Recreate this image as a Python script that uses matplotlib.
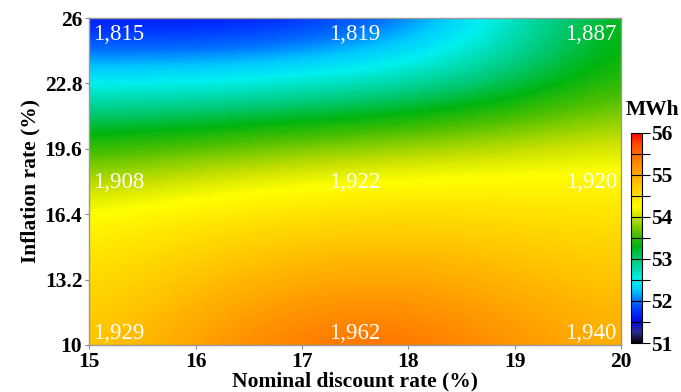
import numpy as np
import matplotlib
matplotlib.use("Agg")
import matplotlib.pyplot as plt
from matplotlib.colors import LinearSegmentedColormap

# grid (MWh)
discount = [15, 16, 17, 18, 19, 20]
inflation = [10, 13.2, 16.4, 19.6, 22.8, 26]
energy = [
    [54.75, 55.10, 55.45, 55.50, 55.20, 54.95],   # 10
    [54.55, 54.80, 55.00, 55.05, 54.90, 54.75],   # 13.2
    [54.30, 54.45, 54.55, 54.60, 54.55, 54.50],   # 16.4
    [53.55, 53.70, 53.85, 53.95, 54.05, 54.15],   # 19.6
    [52.50, 52.50, 52.60, 52.75, 53.05, 53.45],   # 22.8
    [51.50, 51.50, 51.60, 51.90, 52.60, 53.35],   # 26
]

# point labels
lab_x = [15, 17.5, 20]
lab_y = [26, 18, 10]
lab_txt = [
    ["1,815", "1,819", "1,887"],
    ["1,908", "1,922", "1,920"],
    ["1,929", "1,962", "1,940"],
]

yticks = [10, 13.2, 16.4, 19.6, 22.8, 26]
xticks = [15, 16, 17, 18, 19, 20]

anchors = [
    (51.0, "#000000"), (51.25, "#2c2c90"), (51.5, "#0008e0"), (51.75, "#0030ff"),
    (52.0, "#0070ff"), (52.25, "#00c8ff"), (52.5, "#00f0f0"), (53.0, "#00c870"),
    (53.3, "#00b410"), (53.6, "#50c000"), (54.0, "#c8e000"), (54.25, "#ffff00"),
    (54.75, "#ffc800"), (55.25, "#ff8c00"), (55.75, "#ff4a00"), (56.0, "#ff0000"),
]
vmin, vmax = 51, 56
cmap = LinearSegmentedColormap.from_list(
    "mwh", [((v - vmin) / (vmax - vmin), c) for v, c in anchors])

plt.rcParams['font.family'] = ['Liberation Serif', 'DejaVu Serif']

fig = plt.figure(figsize=(6.81, 3.92), dpi=100)
ax = fig.add_axes([0.131, 0.120, 0.781, 0.834])

dx = (discount[-1] - discount[0]) / (len(discount) - 1)
ext = [discount[0] - dx / 2, discount[-1] + dx / 2, 10 - 1.6, 26 + 1.6]
im = ax.imshow(np.array(energy), origin='lower', extent=ext, aspect='auto',
               cmap=cmap, vmin=vmin, vmax=vmax, interpolation='bicubic')
ax.set_xlim(15, 20)
ax.set_ylim(10, 26)

for i, yy in enumerate(lab_y):
    for j, xx in enumerate(lab_x):
        ha = ['left', 'center', 'right'][j]
        va = ['top', 'center', 'bottom'][i]
        offx = [3, 0, -3][j]
        offy = [-4, -1, 1][i]
        ax.annotate(lab_txt[i][j], (xx, yy), xytext=(offx, offy),
                    textcoords='offset points', ha=ha, va=va,
                    color='white', fontsize=16.5)

ax.set_xticks(xticks)
ax.set_yticks(yticks)
ax.set_yticklabels([f"{t:g}" for t in yticks])
ax.tick_params(labelsize=15.5, length=3, color='#888888', width=0.8, pad=2)
for lab in ax.get_xticklabels() + ax.get_yticklabels():
    lab.set_fontweight('bold')
for s in ax.spines.values():
    s.set_color('#999999')
    s.set_linewidth(1.0)
ax.set_xlabel("Nominal discount rate (%)", fontsize=15.5, fontweight='bold', labelpad=0)
ax.set_ylabel("Inflation rate (%)", fontsize=15.5, fontweight='bold', labelpad=3)

cax = fig.add_axes([0.926, 0.125, 0.016, 0.536])
cb = fig.colorbar(im, cax=cax)
cb.set_ticks(np.arange(51, 56.01, 0.5))
cb.set_ticklabels([f"{t:g}" if t == int(t) else "" for t in np.arange(51, 56.01, 0.5)])
for v in np.arange(51.5, 56, 0.5):
    cax.axhline(v, color='black', lw=0.8)
cax.tick_params(labelsize=15.5, length=6, width=0.8, pad=1)
for lab in cax.get_yticklabels():
    lab.set_fontweight('bold')
cb.outline.set_linewidth(0.8)
fig.text(0.958, 0.695, "MWh", ha='center', va='bottom', fontsize=15.5, fontweight='bold')

fig.savefig("out.png", dpi=100)
